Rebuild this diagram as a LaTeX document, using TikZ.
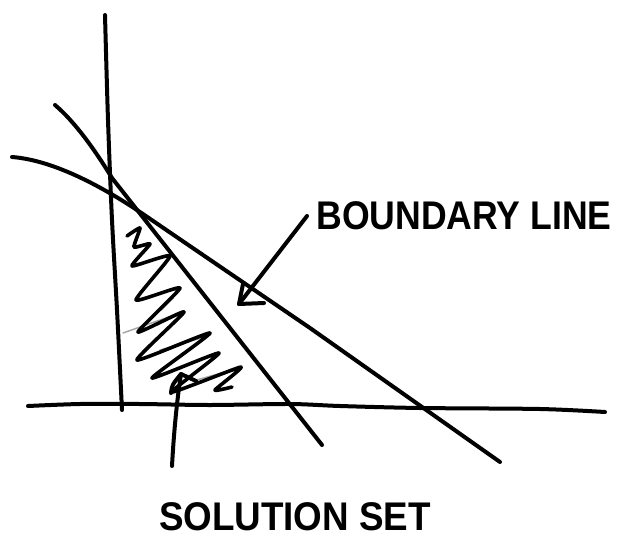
\documentclass[tikz,border=0pt]{standalone}
\usepackage{fontspec}
\setmainfont{Liberation Sans}
\begin{document}
\begin{tikzpicture}[x=1pt,y=-1pt,
  ink/.style={line width=4pt,line cap=round,line join=round,black},
  scribble/.style={line width=3.6pt,line cap=round,line join=round,black},
  faint/.style={line width=1.5pt,line cap=round,black!35},
  label/.style={font=\bfseries\fontsize{40}{40}\selectfont,inner sep=0pt}]
\useasboundingbox (0,0) rectangle (618,538);
% axes
\draw[ink] plot[smooth] coordinates {(105,15) (108,120) (112,220) (117,310) (122,410)};
\draw[ink] plot[smooth] coordinates {(28,406) (80,404) (140,404) (210,405) (290,404) (340,406) (420,408) (540,409) (605,412)};
% boundary lines
\draw[ink] (55,105) .. controls (75,122) and (95,150) .. (112,178) -- (322,445);
\draw[ink] (12,157) .. controls (50,160) and (95,182) .. (140,212) -- (310,328) -- (500,462);
% shading scribble
\draw[faint] (123,333) -- (183,312);
\draw[faint] (160,350) -- (208,336);
\draw[faint] (193,381) -- (236,369);
\draw[scribble] plot[smooth,tension=0.3] coordinates {
 (127,236) (140,228) (134,247) (150,244) (132,266) (170,256) (136,300)
 (180,288) (138,332) (184,312) (137,360) (210,333) (152,378)
 (219,353) (172,392) (241,367) (215,390) (232,387)};
% labels
\node[label,xscale=0.89] (bl) at (464,216) {BOUNDARY LINE};
\node[label,xscale=0.92] (ss) at (295,517) {SOLUTION SET};
% arrows
\coordinate (blfrom) at (307,216);
\coordinate (blto) at (239,304);
\coordinate (ssfrom) at (172,466);
\coordinate (ssto) at (181,374);
\draw[ink] (blfrom) -- (blto);
\draw[ink] (blto) ++(4,-20) -- (blto) -- ++(25,-1);
\draw[ink] (ssfrom) .. controls (174,430) and (177,400) .. (ssto);
\draw[ink] (ssto) ++(-10,19) .. controls (172,385) .. (ssto) -- ++(15,7);
\end{tikzpicture}
\end{document}
